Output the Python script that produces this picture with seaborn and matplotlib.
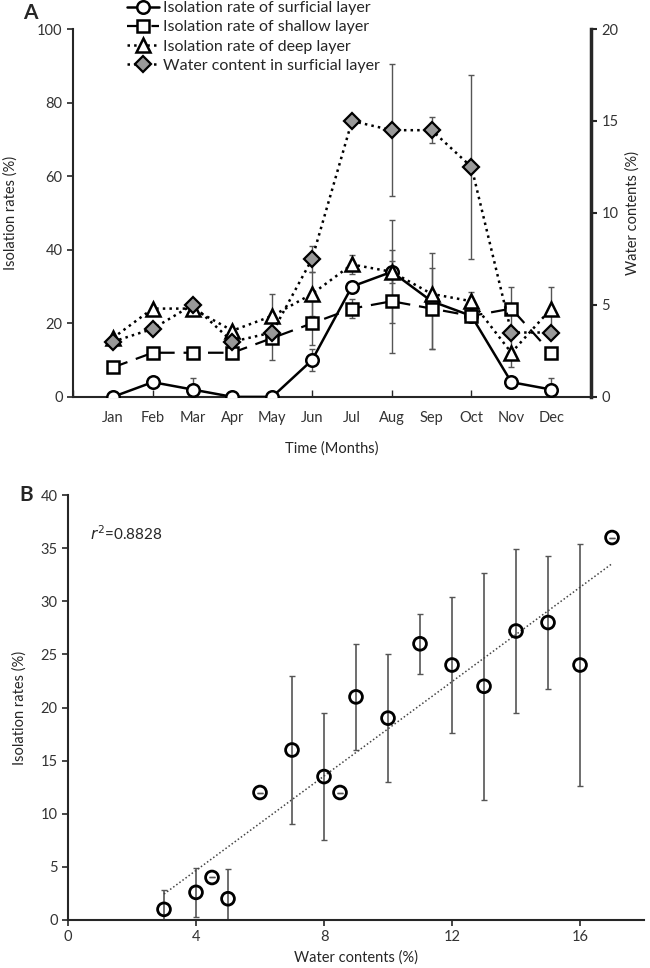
import numpy as np
import pandas as pd
import matplotlib
matplotlib.use("Agg")
import matplotlib.pyplot as plt
import seaborn as sns

# panel A data (month index 1..12)
months = ['Jan', 'Feb', 'Mar', 'Apr', 'May', 'Jun', 'Jul', 'Aug', 'Sep', 'Oct', 'Nov', 'Dec']
surf = [0, 4, 2, 0, 0, 10, 30, 34, 26, 22, 4, 2]
surf_err = [0, 0, 3, 0, 0, 3, 0, 14, 13, 0, 0, 3]
shallow = [8, 12, 12, 12, 16, 20, 24, 26, 24, 22, 24, 12]
shallow_err = [0, 0, 0, 0, 6, 6, 2.5, 14, 11, 1, 6, 0]
deep = [16, 24, 24, 18, 22, 28, 36, 34, 28, 26, 12, 24]
deep_err = [0, 0, 0, 0, 6, 6, 2.5, 3, 0, 2.6, 4, 6]
water = [3.0, 3.7, 5.0, 3.0, 3.5, 7.5, 15.0, 14.5, 14.5, 12.5, 3.5, 3.5]
water_err = [0, 0, 0, 0, 0, 0.7, 0, 3.6, 0.7, 5.0, 0, 0]

# panel B data
water_b = [3, 4, 4.5, 5, 6, 7, 8, 8.5, 9, 10, 11, 12, 13, 14, 15, 16, 17]
rate_b = [1, 2.6, 4, 2, 12, 16, 13.5, 12, 21, 19, 26, 24, 22, 27.2, 28, 24, 36]
err_b = [1.8, 2.3, 0, 2.8, 0, 7, 6, 0, 5, 6, 2.8, 6.4, 10.7, 7.7, 6.3, 11.4, 0]

sns.set_style("ticks")
plt.rcParams['font.family'] = ['Lato', 'DejaVu Sans']
plt.rcParams['axes.linewidth'] = 1.5

df = pd.DataFrame({'m': np.arange(1, 13), 'surf': surf, 'shallow': shallow,
                   'deep': deep, 'water': water})

fig = plt.figure(figsize=(6.5, 9.68), dpi=100)
axA = fig.add_axes([0.1123, 0.590, 0.7970, 0.380])
ax2 = axA.twinx()

ecol = '#555555'
ekw = dict(fmt='none', ecolor=ecol, elinewidth=1, capsize=2.5, capthick=1)

# error bars
axA.errorbar(df['m'], surf, yerr=surf_err, zorder=1, **ekw)
axA.errorbar(df['m'], shallow, yerr=shallow_err, zorder=1, **ekw)
axA.errorbar(df['m'], deep, yerr=deep_err, zorder=1, **ekw)
ax2.errorbar(df['m'], water, yerr=water_err, zorder=1, **ekw)

sns.lineplot(data=df, x='m', y='surf', ax=axA, color='black', lw=1.8,
             marker='o', ms=9, mfc='white', mec='black', mew=1.8,
             label='Isolation rate of surficial layer', zorder=3)
sns.lineplot(data=df, x='m', y='shallow', ax=axA, color='black', lw=1.6,
             dashes=(7, 4), marker='s', ms=8.5, mfc='white', mec='black', mew=1.8,
             label='Isolation rate of shallow layer', zorder=3)
sns.lineplot(data=df, x='m', y='deep', ax=axA, color='black', lw=1.8,
             linestyle=':', marker='^', ms=9.5, mfc='white', mec='black', mew=1.8,
             label='Isolation rate of deep layer', zorder=3)
sns.lineplot(data=df, x='m', y='water', ax=ax2, color='black', lw=1.8,
             linestyle=':', marker='D', ms=8, mfc='#999999', mec='black', mew=1.6,
             label='Water content in surficial layer', zorder=3)

h1, l1 = axA.get_legend_handles_labels()
h2, l2 = ax2.get_legend_handles_labels()
axA.get_legend().remove()
ax2.get_legend().remove()
fig.legend(h1 + h2, l1 + l2, loc='upper left', bbox_to_anchor=(0.195, 0.999),
           frameon=False, fontsize=11.5, handlelength=2.0, handletextpad=0.3,
           labelspacing=0.32, borderpad=0, borderaxespad=0)

axA.set_xlim(0, 13)
axA.set_ylim(0, 100)
ax2.set_ylim(0, 20)
axA.set_yticks(np.arange(0, 101, 20))
ax2.set_yticks(np.arange(0, 21, 5))
axA.xaxis.remove_overlapping_locs = False
axA.set_xticks(np.arange(0, 13, 2))
axA.set_xticklabels([])
axA.set_xticks(np.arange(1, 13), minor=True)
axA.set_xticklabels(months, minor=True)
axA.tick_params(axis='x', which='major', direction='in', length=5, width=1)
axA.tick_params(axis='x', which='minor', length=0, pad=10, labelsize=10.5, labelcolor='#333333')
axA.tick_params(axis='y', direction='out', length=4, width=1.2, labelsize=10.5, labelcolor='#333333')
ax2.tick_params(axis='y', direction='out', length=4, width=1.5, labelsize=10.5, labelcolor='#333333')
for a in (axA, ax2):
    a.spines['top'].set_visible(False)
ax2.spines['right'].set_linewidth(2.5)
ax2.spines['left'].set_visible(False)
ax2.spines['bottom'].set_visible(False)
axA.spines['right'].set_visible(False)
axA.set_xlabel('Time (Months)', fontsize=10.5, labelpad=12)
axA.set_ylabel('Isolation rates (%)', fontsize=10.5, labelpad=14)
ax2.set_ylabel('Water contents (%)', fontsize=10.5, labelpad=5)
ax2.set_zorder(axA.get_zorder() + 1)
ax2.patch.set_visible(False)

fig.text(0.035, 0.987, 'A', fontsize=15, fontweight='bold', va='center', ha='left')

# panel B
axB = fig.add_axes([0.1046, 0.0496, 0.8862, 0.4390])
dfb = pd.DataFrame({'w': water_b, 'r': rate_b})
axB.errorbar(water_b, rate_b, yerr=err_b, zorder=1, fmt='none', ecolor=ecol,
             elinewidth=1.2, capsize=2.5, capthick=1)
sns.regplot(data=dfb, x='w', y='r', ax=axB, scatter=False, ci=None, truncate=True,
            line_kws=dict(color='#444444', lw=1.1, linestyle=(0, (1, 1.5))))
sns.scatterplot(data=dfb, x='w', y='r', ax=axB, marker='o', s=85,
                facecolor='none', edgecolor='black', linewidth=2, zorder=3)
axB.set_xlim(0, 18)
axB.set_ylim(0, 40)
axB.set_xticks(np.arange(0, 17, 4))
axB.set_yticks(np.arange(0, 41, 5))
axB.tick_params(direction='out', length=4, width=1.2, labelsize=10.5, labelcolor='#333333')
axB.spines['top'].set_visible(False)
axB.spines['right'].set_visible(False)
axB.set_xlabel('Water contents (%)', fontsize=10.5, labelpad=4)
axB.set_ylabel('Isolation rates (%)', fontsize=10.5, labelpad=10)
axB.text(0.7, 36.4, r'$r^2$=0.8828', fontsize=11, va='center', ha='left')

fig.text(0.03, 0.489, 'B', fontsize=15, fontweight='bold', va='center', ha='left')

fig.savefig('out.png', dpi=100)
